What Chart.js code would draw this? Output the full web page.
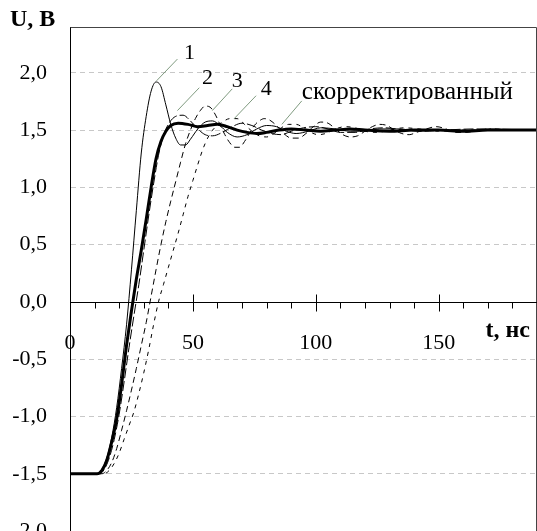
<!DOCTYPE html>
<html>
<head>
<meta charset="utf-8">
<script src="https://cdn.jsdelivr.net/npm/chart.js@4/dist/chart.umd.min.js"></script>
<style>
  html, body { margin: 0; padding: 0; background: #fff; }
  #wrap { width: 537px; height: 531px; }
</style>
</head>
<body>
<div id="wrap"><canvas id="stepChart"></canvas></div>
<script>
// time, ns / voltage, V  — [t, U] pairs
const curve1 = [[0,-1.5],[11,-1.5],[13,-1.46],[15,-1.36],[17,-1.18],[19,-0.92],[21,-0.58],[23,-0.2],[25,0.28],[27,0.8],[29,1.3],[31,1.62],[33,1.84],[35,1.92],[37,1.88],[39,1.72],[41,1.55],[43,1.43],[45,1.37],[47,1.37],[49,1.42],[52,1.51],[55,1.57],[58,1.58],[61,1.54],[64,1.48],[68,1.44],[72,1.46],[76,1.51],[80,1.54],[84,1.53],[88,1.49],[92,1.47],[97,1.49],[102,1.52],[108,1.51],[114,1.49],[120,1.49],[126,1.51],[134,1.51],[142,1.49],[150,1.5],[160,1.5],[175,1.5],[190,1.5]];
const curve2 = [[0,-1.5],[12,-1.5],[14,-1.46],[16,-1.36],[18,-1.2],[20,-0.98],[22,-0.7],[24,-0.4],[26,-0.12],[28,0.15],[30,0.45],[32,0.75],[34,1.03],[36,1.28],[38,1.45],[40,1.55],[43,1.62],[46,1.63],[49,1.58],[52,1.51],[55,1.46],[58,1.45],[62,1.48],[66,1.53],[70,1.56],[74,1.54],[78,1.5],[82,1.47],[86,1.46],[90,1.49],[95,1.52],[100,1.53],[105,1.51],[110,1.48],[116,1.48],[122,1.51],[128,1.52],[136,1.5],[144,1.49],[152,1.5],[165,1.51],[190,1.5]];
const curve3 = [[0,-1.5],[13,-1.5],[15,-1.47],[17,-1.4],[19,-1.28],[21,-1.12],[23,-0.95],[25,-0.77],[27,-0.58],[29,-0.38],[31,-0.18],[33,0.05],[35,0.28],[37,0.5],[39,0.7],[41,0.88],[43,1.05],[45,1.22],[47,1.38],[49,1.5],[51,1.6],[53,1.67],[55,1.71],[57,1.7],[59,1.64],[61,1.55],[63,1.46],[65,1.39],[67,1.35],[69,1.35],[71,1.4],[73,1.47],[75,1.54],[77,1.58],[79,1.6],[81,1.59],[84,1.54],[87,1.47],[90,1.43],[93,1.43],[96,1.47],[99,1.53],[102,1.57],[105,1.56],[108,1.51],[111,1.46],[114,1.44],[117,1.45],[120,1.49],[123,1.53],[126,1.55],[129,1.54],[132,1.5],[135,1.47],[138,1.46],[141,1.48],[145,1.51],[149,1.53],[153,1.51],[157,1.48],[161,1.48],[166,1.5],[172,1.51],[180,1.5],[190,1.5]];
const curve4 = [[0,-1.5],[14,-1.5],[16,-1.47],[18,-1.41],[20,-1.32],[22,-1.2],[24,-1.08],[26,-0.96],[28,-0.8],[30,-0.62],[32,-0.42],[34,-0.2],[36,0.0],[38,0.15],[40,0.3],[42,0.45],[44,0.6],[46,0.76],[48,0.92],[50,1.06],[52,1.2],[54,1.33],[56,1.43],[58,1.5],[60,1.54],[62,1.57],[65,1.6],[68,1.6],[71,1.55],[74,1.49],[77,1.45],[80,1.44],[83,1.47],[86,1.52],[89,1.55],[92,1.55],[95,1.52],[98,1.48],[101,1.46],[104,1.47],[108,1.51],[112,1.53],[116,1.52],[120,1.49],[125,1.48],[130,1.5],[136,1.52],[142,1.51],[150,1.49],[160,1.5],[190,1.5]];
const corrected = [[0,-1.5],[11,-1.5],[13,-1.47],[15,-1.38],[17,-1.22],[19,-1.02],[21,-0.72],[23,-0.38],[25,-0.08],[27,0.2],[29,0.45],[31,0.72],[33,1.0],[35,1.25],[37,1.4],[39,1.49],[41,1.54],[44,1.56],[48,1.55],[52,1.53],[56,1.54],[60,1.55],[64,1.53],[68,1.5],[72,1.48],[76,1.47],[80,1.48],[85,1.5],[90,1.51],[96,1.5],[102,1.49],[108,1.5],[114,1.51],[120,1.5],[130,1.49],[140,1.5],[150,1.5],[160,1.49],[170,1.5],[190,1.5]];

// curve captions: text, where the text sits, leader line from/to (all in t, U)
const captions = [
  { text: '1', at: [48.6, 2.17], from: [43.7, 2.12], to: [35.2, 1.93] },
  { text: '2', at: [55.9, 1.95], from: [52.6, 1.87], to: [43.7, 1.67] },
  { text: '3', at: [68.0, 1.93], from: [66.0, 1.86], to: [57.9, 1.67] },
  { text: '4', at: [79.8, 1.86], from: [75.7, 1.80], to: [66.8, 1.60] },
  { text: 'скорректированный', at: [94.3, 1.83], from: [94.3, 1.755], to: [86.2, 1.55], left: true }
];

const toXY = arr => arr.map(p => ({ x: p[0], y: p[1] }));
const SERIF = '"Liberation Serif", "Times New Roman", serif';

function line(data, width, dash) {
  return {
    data: toXY(data),
    borderColor: '#000',
    borderWidth: width,
    borderDash: dash,
    pointRadius: 0,
    fill: false,
    cubicInterpolationMode: 'monotone'
  };
}

function noPadding(scale) {
  scale.paddingTop = 0;
  scale.paddingBottom = 0;
  scale.paddingLeft = 0;
  scale.paddingRight = 0;
}

const decorations = {
  id: 'decorations',
  afterDraw(chart) {
    const { ctx, chartArea: a, scales: { x, y } } = chart;
    ctx.save();
    // frame
    ctx.strokeStyle = '#444';
    ctx.lineWidth = 1;
    ctx.beginPath();
    ctx.moveTo(a.left + 0.5, a.top + 0.5);
    ctx.lineTo(a.right - 0.5, a.top + 0.5);
    ctx.lineTo(a.right - 0.5, a.bottom);
    ctx.stroke();

    // time axis through U = 0
    const y0 = Math.round(y.getPixelForValue(0)) + 0.5;
    ctx.strokeStyle = '#000';
    ctx.beginPath();
    ctx.moveTo(a.left, y0);
    ctx.lineTo(a.right, y0);
    for (let v = 10; v < x.max; v += 10) {
      const px = Math.round(x.getPixelForValue(v)) + 0.5;
      if (v % 50 === 0) { ctx.moveTo(px, y0 - 8); ctx.lineTo(px, y0 + 9); }
      else { ctx.moveTo(px, y0); ctx.lineTo(px, y0 + 6); }
    }
    ctx.stroke();

    // leader lines
    ctx.strokeStyle = '#7f9a7f';
    captions.forEach(c => {
      ctx.beginPath();
      ctx.moveTo(x.getPixelForValue(c.from[0]), y.getPixelForValue(c.from[1]));
      ctx.lineTo(x.getPixelForValue(c.to[0]), y.getPixelForValue(c.to[1]));
      ctx.stroke();
    });

    // captions
    ctx.fillStyle = '#000';
    ctx.textBaseline = 'middle';
    captions.forEach(c => {
      ctx.font = (c.left ? '25px ' : '22px ') + SERIF;
      ctx.textAlign = c.left ? 'left' : 'center';
      ctx.fillText(c.text, x.getPixelForValue(c.at[0]), y.getPixelForValue(c.at[1]));
    });

    // axis names
    ctx.font = 'bold 24px ' + SERIF;
    ctx.textAlign = 'left';
    ctx.textBaseline = 'alphabetic';
    ctx.fillText('U, В', 10, 26);
    ctx.fillText('t, нс', x.getPixelForValue(169), y.getPixelForValue(-0.31));
    ctx.restore();
  }
};

new Chart(document.getElementById('stepChart'), {
  type: 'line',
  data: {
    datasets: [
      line(curve4, 1, [4, 5]),
      line(curve3, 1, [6, 4]),
      line(curve2, 1, [10, 3]),
      line(curve1, 1, []),
      line(corrected, 3, [])
    ]
  },
  options: {
    responsive: true,
    maintainAspectRatio: false,
    animation: false,
    layout: { padding: { top: 27, right: 0, bottom: 0, left: 0 } },
    plugins: { legend: { display: false }, tooltip: { enabled: false } },
    scales: {
      x: {
        type: 'linear',
        min: 0,
        max: 190,
        position: { y: 0 },
        afterFit(scale) { scale.height = 0; noPadding(scale); },
        grid: { drawOnChartArea: false, drawTicks: false },
        border: { display: false },
        ticks: {
          stepSize: 10,
          autoSkip: false,
          maxRotation: 0,
          padding: 28,
          color: '#000',
          font: { family: SERIF, size: 22 },
          callback: v => (v % 50 === 0 ? String(v) : '')
        }
      },
      y: {
        type: 'linear',
        min: -2,
        max: 2.4,
        afterFit(scale) { scale.width = 70; noPadding(scale); },
        grid: {
          drawTicks: false,
          lineWidth: 1,
          color: c => (c.tick && c.tick.value === 0 ? 'rgba(0,0,0,0)' : '#c8c8c8')
        },
        border: { display: true, color: '#000', width: 1, dash: [5, 4] },
        ticks: {
          stepSize: 0.5,
          includeBounds: false,
          padding: 23,
          color: '#000',
          font: { family: SERIF, size: 22 },
          callback: v => v.toFixed(1).replace('.', ',')
        }
      }
    }
  },
  plugins: [decorations]
});
</script>
</body>
</html>
